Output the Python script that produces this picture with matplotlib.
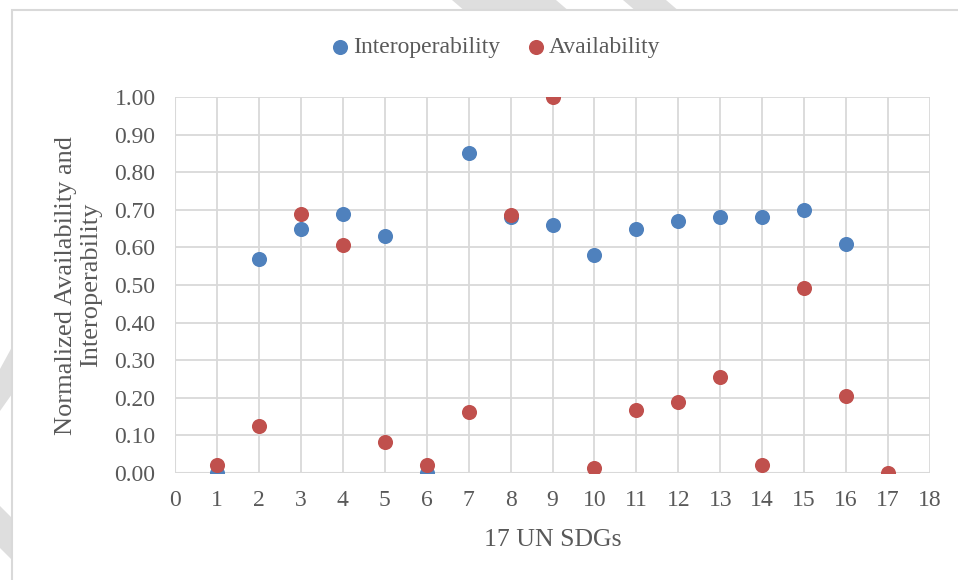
import matplotlib.pyplot as plt
from matplotlib.patches import Polygon, Rectangle

plt.rcParams['font.family'] = ['Liberation Serif', 'DejaVu Serif']

# 17 UN SDGs
sdg_interop = [1, 2, 3, 4, 5, 6, 7, 8, 9, 10, 11, 12, 13, 14, 15, 16]
interoperability = [0.00, 0.57, 0.65, 0.69, 0.63, 0.00, 0.85, 0.68, 0.66, 0.58, 0.65, 0.67, 0.68, 0.68, 0.70, 0.61]

sdg_avail = [1, 2, 3, 4, 5, 6, 7, 8, 9, 10, 11, 12, 13, 14, 15, 16, 17]
availability = [0.02, 0.125, 0.69, 0.607, 0.083, 0.02, 0.163, 0.687, 1.00, 0.013, 0.168, 0.188, 0.256, 0.02, 0.493, 0.205, 0.00]

x_ticks = list(range(0, 19))
y_ticks = [i / 10 for i in range(11)]

blue = '#4F81BD'
red = '#C0504D'
grid_c = '#D9D9D9'
text_c = '#595959'

W, H = 958, 580
fig = plt.figure(figsize=(W / 100, H / 100), dpi=100)

def px(pts):
    # pixel coords (top-left origin) -> figure fraction
    return [(x / W, 1 - y / H) for x, y in pts]

# faint watermark bands, only visible outside the chart frame
wm = '#DEDEDE'
bands = [
    [(452, 0), (556, 0), (570, 12), (466, 12)],
    [(623, 0), (666, 0), (680, 12), (637, 12)],
    [(0, 369), (12, 347), (12, 394), (0, 411)],
    [(0, 506), (12, 518), (12, 560), (0, 548)],
]
for b in bands:
    fig.patches.append(Polygon(px(b), closed=True, transform=fig.transFigure,
                               facecolor=wm, edgecolor='none', zorder=-3))

# chart frame (white, light grey border, runs off right/bottom edges)
fig.patches.append(Rectangle((12 / W, -0.1), 1.2, 1 - 10 / H + 0.1, transform=fig.transFigure,
                             facecolor='white', edgecolor='#D9D9D9', lw=1.5, zorder=-2))

ax = fig.add_axes([175 / W, 1 - 473 / H, 755 / W, 376 / H])
ax.set_zorder(1)
ax.set_facecolor('none')

ax.scatter(sdg_interop, interoperability, s=118, color=blue, label='Interoperability', zorder=3, linewidths=0)
ax.scatter(sdg_avail, availability, s=118, color=red, label='Availability', zorder=4, linewidths=0)

ax.set_xlim(0, 18)
ax.set_ylim(0, 1.0)
ax.set_xticks(x_ticks)
ax.set_yticks(y_ticks)
ax.set_yticklabels([f'{v:.2f}' for v in y_ticks])
ax.grid(True, color=grid_c, lw=1.3, zorder=0)
ax.set_axisbelow(True)
for s in ax.spines.values():
    s.set_visible(False)
ax.axhline(0, color=grid_c, lw=1.5, zorder=1)
ax.axvline(0, color=grid_c, lw=1.5, zorder=1)
ax.tick_params(length=0, labelsize=17, colors=text_c)
ax.tick_params(axis='y', pad=14)
ax.tick_params(axis='x', pad=12)
ax.set_xlabel('17 UN SDGs', fontsize=18.5, color=text_c, labelpad=13)
ax.set_ylabel('Normalized Availability and\nInteroperability', fontsize=19, color=text_c,
              labelpad=9, linespacing=1.15)

fig.legend(loc='center', bbox_to_anchor=(0.516, 0.919), ncol=2, frameon=False,
           fontsize=17, handlelength=1.0, handletextpad=0.05, columnspacing=1.0,
           labelcolor=text_c)

fig.savefig('out.png', dpi=100)
